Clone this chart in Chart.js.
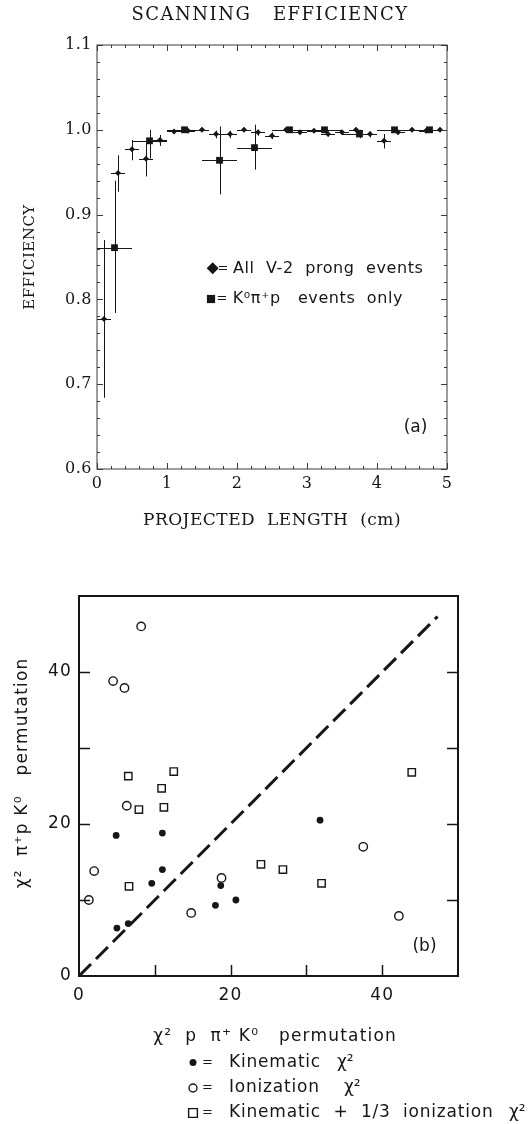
<!DOCTYPE html>
<html>
<head>
<meta charset="utf-8">
<title>Scanning efficiency</title>
<script src="https://cdn.jsdelivr.net/npm/chart.js@4.4.1/dist/chart.umd.min.js"></script>
<style>
    html, body { margin: 0; padding: 0; background: #fff; }
    body { width: 529px; height: 1124px; position: relative; overflow: hidden; }
    .panel { position: absolute; left: 0; width: 529px; }
    #panelA { top: 0; height: 550px; }
    #panelB { top: 560px; height: 564px; }
</style>
</head>
<body>
<div class="panel" id="panelA"><canvas id="graficaEficiencia"></canvas></div>
<div class="panel" id="panelB"><canvas id="graficaChi"></canvas></div>

<script>
//1. Datos del panel (a): eficiencia frente a longitud proyectada (cm)
// Todos los sucesos V-2 prong, bins de 0.2 cm
const longitudTodos = [0.1, 0.3, 0.5, 0.7, 0.9, 1.1, 1.3, 1.5, 1.7, 1.9, 2.1, 2.3, 2.5,
    2.7, 2.9, 3.1, 3.3, 3.5, 3.7, 3.9, 4.1, 4.3, 4.5, 4.7, 4.9];
const eficienciaTodos = [0.777, 0.949, 0.977, 0.966, 0.988, 0.998, 0.999, 1.000, 0.995, 0.995,
    1.000, 0.997, 0.993, 1.000, 0.997, 0.999, 0.995, 0.997, 1.000, 0.995, 0.987, 0.997, 1.000,
    0.999, 1.000];
const eficienciaTodosMin = [0.684, 0.927, 0.964, 0.945, 0.981, 0.995, 0.997, 0.999, 0.990, 0.990,
    0.998, 0.993, 0.989, 0.999, 0.995, 0.997, 0.992, 0.995, 0.999, 0.991, 0.978, 0.995, 0.999,
    0.997, 0.999];
const eficienciaTodosMax = [0.870, 0.970, 0.988, 0.984, 0.994, 1.000, 1.000, 1.000, 0.999, 0.999,
    1.000, 1.000, 0.997, 1.000, 0.999, 1.000, 0.998, 0.999, 1.000, 0.998, 0.995, 0.999, 1.000,
    1.000, 1.000];
const semiBinTodos = 0.1;

// Solo sucesos K0 pi+ p, bins de 0.5 cm
const longitudK0 = [0.25, 0.75, 1.25, 1.75, 2.25, 2.75, 3.25, 3.75, 4.25, 4.75];
const eficienciaK0 = [0.861, 0.987, 1.000, 0.964, 0.979, 1.000, 1.000, 0.995, 1.000, 1.000];
const eficienciaK0Min = [0.784, 0.966, 0.999, 0.924, 0.953, 0.999, 0.999, 0.990, 0.999, 0.999];
const eficienciaK0Max = [0.940, 1.000, 1.000, 1.004, 1.006, 1.000, 1.000, 1.000, 1.000, 1.000];
const semiBinK0 = 0.25;

const etiquetasLongitud = [0, 1, 2, 3, 4, 5];
const etiquetasEficiencia = [0.6, 0.7, 0.8, 0.9, 1.0, 1.1];

//2. Datos del panel (b): chi cuadrado de las dos permutaciones
const kinematicaX = [4.9, 11.0, 11.0, 9.6, 5.0, 6.5, 18.7, 18.0, 20.7, 31.8];
const kinematicaY = [18.5, 18.8, 14.0, 12.2, 6.3, 6.9, 11.9, 9.3, 10.0, 20.5];
const ionizacionX = [8.2, 4.5, 6.0, 6.3, 2.0, 1.3, 14.8, 18.8, 37.5, 42.2];
const ionizacionY = [46.0, 38.8, 37.9, 22.4, 13.8, 10.0, 8.3, 12.9, 17.0, 7.9];
const combinadoX = [6.5, 12.5, 10.9, 7.9, 11.2, 6.6, 24.0, 26.9, 32.0, 43.9];
const combinadoY = [26.3, 26.9, 24.7, 21.9, 22.2, 11.8, 14.7, 14.0, 12.2, 26.8];
const diagonalX = [0, 47.3];
const diagonalY = [0, 47.3];

const etiquetasChi = [0, 20, 40];
const marcasChi = [10, 20, 30, 40];

const TINTA = "#161616";

const puntos = (xs, ys) => xs.map((x, i) => ({ x: x, y: ys[i] }));
const rango = (a, b, paso) => {
    const r = [];
    for (let v = a; v <= b + paso / 2; v += paso) r.push(+v.toFixed(4));
    return r;
};

//3. Plugins propios
// Barras de error (horizontal = ancho del bin, vertical = min/max)
const pluginErrores = {
    id: "errores",
    beforeDatasetsDraw(chart) {
        const { ctx, scales: { x, y } } = chart;
        ctx.save();
        chart.data.datasets.forEach((ds) => {
            if (!ds.errorMin) return;
            ctx.strokeStyle = ds.borderColor;
            ctx.lineWidth = 1;
            ctx.beginPath();
            ds.data.forEach((p, j) => {
                const px = Math.round(x.getPixelForValue(p.x)) + 0.5;
                const py = Math.round(y.getPixelForValue(p.y)) + 0.5;
                ctx.moveTo(x.getPixelForValue(p.x - ds.semiBin), py);
                ctx.lineTo(x.getPixelForValue(p.x + ds.semiBin), py);
                ctx.moveTo(px, y.getPixelForValue(ds.errorMin[j]));
                ctx.lineTo(px, y.getPixelForValue(ds.errorMax[j]));
            });
            ctx.stroke();
        });
        ctx.restore();
    }
};

// Marco completo con marcas hacia dentro
const pluginMarco = {
    id: "marco",
    afterDatasetsDraw(chart, args, o) {
        const { ctx, chartArea: a, scales: { x, y } } = chart;
        ctx.save();
        ctx.strokeStyle = o.color;
        ctx.lineWidth = o.grosorMarco;
        ctx.strokeRect(a.left, a.top, a.right - a.left, a.bottom - a.top);
        ctx.lineWidth = o.grosorMarca;
        ctx.beginPath();
        (o.marcasX || []).forEach(([valores, largo]) => valores.forEach((v) => {
            const px = Math.round(x.getPixelForValue(v)) + 0.5;
            if (o.lados.includes("bottom")) { ctx.moveTo(px, a.bottom); ctx.lineTo(px, a.bottom - largo); }
            if (o.lados.includes("top")) { ctx.moveTo(px, a.top); ctx.lineTo(px, a.top + largo); }
        }));
        (o.marcasY || []).forEach(([valores, largo]) => valores.forEach((v) => {
            const py = Math.round(y.getPixelForValue(v)) + 0.5;
            if (o.lados.includes("left")) { ctx.moveTo(a.left, py); ctx.lineTo(a.left + largo, py); }
            if (o.lados.includes("right")) { ctx.moveTo(a.right, py); ctx.lineTo(a.right - largo, py); }
        }));
        ctx.stroke();
        ctx.restore();
    }
};

function dibujarSimbolo(ctx, estilo, x, y, r, relleno, grosor) {
    ctx.beginPath();
    if (estilo === "circle") {
        ctx.arc(x, y, r, 0, Math.PI * 2);
    } else if (estilo === "rect") {
        const l = r * Math.SQRT1_2;
        ctx.rect(x - l, y - l, 2 * l, 2 * l);
    } else {
        ctx.moveTo(x - r, y); ctx.lineTo(x, y - r); ctx.lineTo(x + r, y); ctx.lineTo(x, y + r);
        ctx.closePath();
    }
    ctx.fillStyle = relleno;
    ctx.fill();
    if (grosor > 0) { ctx.lineWidth = grosor; ctx.stroke(); }
}

// Textos sueltos y leyendas dibujadas a mano
const pluginRotulos = {
    id: "rotulos",
    beforeDraw(chart, args, o) {
        chart.ctx.letterSpacing = o.espaciadoEjes || "0px";
    },
    afterDraw(chart, args, o) {
        const ctx = chart.ctx;
        ctx.save();
        ctx.textBaseline = "middle";
        (o.textos || []).forEach((t) => {
            ctx.font = t.fuente;
            ctx.fillStyle = TINTA;
            ctx.textAlign = t.alinear || "left";
            ctx.letterSpacing = t.espaciado || "0px";
            ctx.fillText(t.texto, t.x, t.y);
        });
        ctx.strokeStyle = TINTA;
        (o.simbolos || []).forEach((s) => {
            const ds = chart.data.datasets[s.serie];
            dibujarSimbolo(ctx, ds.pointStyle, s.x, s.y, s.radio, ds.backgroundColor, ds.borderWidth);
        });
        ctx.restore();
    }
};

const fuenteSerif = "DejaVu Serif";
const fuenteSans = "DejaVu Sans";

//4. Gráfica (a)
const graficaEficiencia = new Chart(document.getElementById("graficaEficiencia"), {
    type: "scatter",
    data: {
        datasets: [{
            label: "All V-2 prong events",
            data: puntos(longitudTodos, eficienciaTodos),
            pointStyle: "rectRot",
            pointRadius: 3,
            backgroundColor: TINTA,
            borderColor: TINTA,
            borderWidth: 0,
            errorMin: eficienciaTodosMin,
            errorMax: eficienciaTodosMax,
            semiBin: semiBinTodos
        }, {
            label: "K⁰π⁺p events only",
            data: puntos(longitudK0, eficienciaK0),
            pointStyle: "rect",
            pointRadius: 4.8,
            backgroundColor: TINTA,
            borderColor: TINTA,
            borderWidth: 0,
            errorMin: eficienciaK0Min,
            errorMax: eficienciaK0Max,
            semiBin: semiBinK0
        }]
    },
    options: {
        responsive: true,
        maintainAspectRatio: false,
        animation: false,
        events: [],
        layout: { padding: { left: 0, top: 45, right: 82, bottom: 0 } },
        scales: {
            x: {
                type: "linear", min: 0, max: 5,
                afterFit: (s) => { s.height = 81; },
                afterBuildTicks: (s) => { s.ticks = etiquetasLongitud.map((v) => ({ value: v })); },
                grid: { display: false, drawTicks: false },
                border: { display: false },
                ticks: { padding: 5, color: TINTA, font: { family: fuenteSerif, size: 16 }, callback: (v) => String(v) },
                title: {
                    display: true, text: "PROJECTED  LENGTH  (cm)", color: TINTA,
                    font: { family: fuenteSerif, size: 17 }, padding: { top: 0, bottom: 19 }
                }
            },
            y: {
                type: "linear", min: 0.6, max: 1.1,
                afterFit: (s) => { s.width = 97; },
                afterBuildTicks: (s) => { s.ticks = etiquetasEficiencia.map((v) => ({ value: v })); },
                grid: { display: false, drawTicks: false },
                border: { display: false },
                ticks: { padding: 5, color: TINTA, font: { family: fuenteSerif, size: 16 }, callback: (v) => v.toFixed(1) },
                title: {
                    display: true, text: "EFFICIENCY", color: TINTA,
                    font: { family: fuenteSerif, size: 15 }, padding: { top: 21, bottom: 0 }
                }
            }
        },
        plugins: {
            legend: { display: false },
            tooltip: { enabled: false },
            marco: {
                color: "#3a3a3a", grosorMarco: 1, grosorMarca: 1,
                lados: ["top", "bottom", "left", "right"],
                marcasX: [[rango(0, 5, 0.2), 3], [etiquetasLongitud, 6]],
                marcasY: [[rango(0.6, 1.1, 0.02), 3], [etiquetasEficiencia, 6]]
            },
            rotulos: {
                espaciadoEjes: "0.5px",
                textos: [
                    { texto: "SCANNING   EFFICIENCY", x: 270, y: 15, alinear: "center", fuente: "18px " + fuenteSerif, espaciado: "1.5px" },
                    { texto: "=", x: 223, y: 268.5, alinear: "center", fuente: "13px " + fuenteSans },
                    { texto: "All  V-2  prong  events", x: 233, y: 268.5, fuente: "16px " + fuenteSans, espaciado: "0.6px" },
                    { texto: "=", x: 222, y: 299, alinear: "center", fuente: "13px " + fuenteSans },
                    { texto: "K⁰π⁺p   events  only", x: 232.7, y: 299, fuente: "16px " + fuenteSans, espaciado: "0.6px" },
                    { texto: "(a)", x: 415.5, y: 427.5, alinear: "center", fuente: "17px " + fuenteSans }
                ],
                simbolos: [
                    { serie: 0, x: 212.7, y: 268.3, radio: 6 },
                    { serie: 1, x: 211, y: 299, radio: 5.8 }
                ]
            }
        }
    },
    plugins: [pluginErrores, pluginMarco, pluginRotulos]
});

//5. Gráfica (b)
const graficaChi = new Chart(document.getElementById("graficaChi"), {
    type: "scatter",
    data: {
        datasets: [{
            label: "Kinematic χ²",
            data: puntos(kinematicaX, kinematicaY),
            pointStyle: "circle",
            pointRadius: 3.4,
            backgroundColor: TINTA,
            borderColor: TINTA,
            borderWidth: 0
        }, {
            label: "Ionization χ²",
            data: puntos(ionizacionX, ionizacionY),
            pointStyle: "circle",
            pointRadius: 4.2,
            backgroundColor: "#ffffff",
            borderColor: TINTA,
            borderWidth: 1.4
        }, {
            label: "Kinematic + 1/3 ionization χ²",
            data: puntos(combinadoX, combinadoY),
            pointStyle: "rect",
            pointRadius: 5.2,
            backgroundColor: "#ffffff",
            borderColor: TINTA,
            borderWidth: 1.4
        }, {
            type: "line",
            label: "diagonal",
            data: puntos(diagonalX, diagonalY),
            borderColor: TINTA,
            borderWidth: 3,
            borderDash: [17, 7],
            pointRadius: 0,
            fill: false
        }]
    },
    options: {
        responsive: true,
        maintainAspectRatio: false,
        animation: false,
        events: [],
        layout: { padding: { left: 0, top: 36, right: 71, bottom: 0 } },
        scales: {
            x: {
                type: "linear", min: 0, max: 50,
                afterFit: (s) => { s.height = 148; },
                afterBuildTicks: (s) => { s.ticks = etiquetasChi.map((v) => ({ value: v })); },
                grid: { display: false, drawTicks: false },
                border: { display: false },
                ticks: { padding: 9, color: TINTA, font: { family: fuenteSans, size: 17 } },
                title: {
                    display: true, text: "  χ²  p  π⁺ K⁰   permutation", color: TINTA,
                    font: { family: fuenteSans, size: 17 }, padding: { top: 0, bottom: 77 }
                }
            },
            y: {
                type: "linear", min: 0, max: 50,
                afterFit: (s) => { s.width = 79; },
                afterBuildTicks: (s) => { s.ticks = etiquetasChi.map((v) => ({ value: v })); },
                grid: { display: false, drawTicks: false },
                border: { display: false },
                ticks: { padding: 7, color: TINTA, font: { family: fuenteSans, size: 17 } },
                title: {
                    display: true, text: "    χ²  π⁺p K⁰   permutation", color: TINTA,
                    font: { family: fuenteSans, size: 17 }, padding: { top: 12, bottom: 0 }
                }
            }
        },
        plugins: {
            legend: { display: false },
            tooltip: { enabled: false },
            marco: {
                color: TINTA, grosorMarco: 2, grosorMarca: 1.5,
                lados: ["bottom", "left", "right"],
                marcasX: [[marcasChi, 11]],
                marcasY: [[marcasChi, 11]]
            },
            rotulos: {
                espaciadoEjes: "1.2px",
                textos: [
                    { texto: "(b)", x: 424.5, y: 386.5, alinear: "center", fuente: "17px " + fuenteSans },
                    { texto: "=", x: 207.5, y: 502.5, alinear: "center", fuente: "13px " + fuenteSans },
                    { texto: "Kinematic", x: 229, y: 502.5, fuente: "17px " + fuenteSans, espaciado: "0.8px" },
                    { texto: "χ²", x: 337, y: 502.5, fuente: "17px " + fuenteSans },
                    { texto: "=", x: 207.5, y: 528, alinear: "center", fuente: "13px " + fuenteSans },
                    { texto: "Ionization", x: 229, y: 528, fuente: "17px " + fuenteSans, espaciado: "0.8px" },
                    { texto: "χ²", x: 344, y: 528, fuente: "17px " + fuenteSans },
                    { texto: "=", x: 207.5, y: 553, alinear: "center", fuente: "13px " + fuenteSans },
                    { texto: "Kinematic  +  1/3  ionization", x: 229, y: 553, fuente: "17px " + fuenteSans, espaciado: "0.8px" },
                    { texto: "χ²", x: 509, y: 553, fuente: "17px " + fuenteSans }
                ],
                simbolos: [
                    { serie: 0, x: 193, y: 502.5, radio: 3.5 },
                    { serie: 1, x: 193, y: 528, radio: 4 },
                    { serie: 2, x: 193, y: 553, radio: 6.2 }
                ]
            }
        }
    },
    plugins: [pluginMarco, pluginRotulos]
});
</script>
</body>
</html>
